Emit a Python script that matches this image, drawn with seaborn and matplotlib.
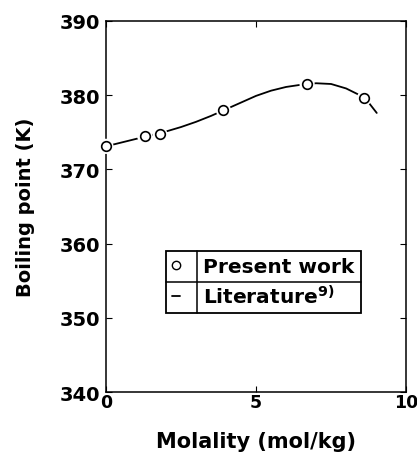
import matplotlib
matplotlib.use("Agg")
import matplotlib.pyplot as plt
import seaborn as sns
import pandas as pd
from matplotlib.lines import Line2D

# Present work (measured points)
molality_pw = [0.0, 1.29, 1.8, 3.91, 6.7, 8.61]
bp_pw = [373.1, 374.5, 374.7, 378.0, 381.5, 379.6]

# Literature curve
molality_lit = [0.0, 0.5, 1.0, 1.5, 2.0, 2.5, 3.0, 3.5, 4.0, 4.5, 5.0, 5.5,
                6.0, 6.5, 7.0, 7.5, 8.0, 8.5, 8.75, 9.02]
bp_lit = [373.1, 373.6, 374.1, 374.6, 375.1, 375.7, 376.4, 377.2, 378.1, 379.0,
          379.9, 380.6, 381.1, 381.4, 381.6, 381.5, 380.9, 379.9, 379.0, 377.6]

xticks = [0, 5, 10]
yticks = [340, 350, 360, 370, 380, 390]
legend_labels = ["Present work", "Literature$^{\\mathbf{9)}}$"]

sns.set_style("ticks")
plt.rcParams['font.family'] = ['DejaVu Sans']
plt.rcParams['font.weight'] = 'bold'
plt.rcParams['mathtext.default'] = 'bf'
for k in ['text.color', 'axes.labelcolor', 'xtick.color', 'ytick.color',
          'axes.edgecolor']:
    plt.rcParams[k] = 'black'

fig = plt.figure(figsize=(4.17, 4.56), dpi=100)
ax = fig.add_axes([0.254, 0.138, 0.72, 0.814])

df_lit = pd.DataFrame({"m": molality_lit, "bp": bp_lit})
df_pw = pd.DataFrame({"m": molality_pw, "bp": bp_pw})

sns.lineplot(data=df_lit, x="m", y="bp", ax=ax, color="black", lw=1.3,
             sort=False, estimator=None, zorder=2)
# white halo to make gaps around markers
sns.scatterplot(data=df_pw, x="m", y="bp", ax=ax, s=120, color="white",
                edgecolor="none", zorder=3, clip_on=False)
sns.scatterplot(data=df_pw, x="m", y="bp", ax=ax, s=48, color="white",
                edgecolor="black", linewidth=1.2, zorder=4, clip_on=False)

ax.set_xlim(0, 10)
ax.set_ylim(340, 390)
ax.set_xticks(xticks)
ax.set_yticks(yticks)
ax.set_xticklabels([str(t) for t in xticks], fontsize=12.5, fontweight='bold')
ax.set_yticklabels([str(t) for t in yticks], fontsize=14, fontweight='bold')
ax.tick_params(direction='in', top=True, right=True, length=4, width=0.8,
               pad=1)
ax.tick_params(axis='y', pad=4)
for s in ax.spines.values():
    s.set_linewidth(1.1)
    s.set_color("black")

ax.set_xlabel("Molality (mol/kg)", fontsize=15, fontweight='bold', labelpad=14)
ax.set_ylabel("Boiling point (K)", fontsize=14, fontweight='bold', labelpad=18)

handles = [
    Line2D([], [], marker='o', ls='none', markerfacecolor='white',
           markeredgecolor='black', markersize=6, markeredgewidth=1.0),
    Line2D([], [], color='black', lw=1.3),
]
leg = ax.legend(handles, legend_labels, loc='upper left',
                bbox_to_anchor=(0.2, 0.38), frameon=True, fancybox=False,
                edgecolor='black', framealpha=1, borderpad=0.3,
                handlelength=0.4, handletextpad=1.15, labelspacing=0.4,
                prop={'size': 14.5, 'weight': 'bold'}, borderaxespad=0)
leg.get_frame().set_linewidth(1.3)

fig.canvas.draw()
# draw separators inside the legend box to make it table-like
fb = leg.get_frame().get_window_extent()
inv = fig.transFigure.inverted()
(x0, y0), (x1, y1) = inv.transform([(fb.x0, fb.y0), (fb.x1, fb.y1)])
xsep = x0 + (x1 - x0) * 0.16
ymid = (y0 + y1) / 2
fig.add_artist(Line2D([xsep, xsep], [y0, y1], color='black', lw=1.1,
                      transform=fig.transFigure, zorder=10))
fig.add_artist(Line2D([x0, x1], [ymid, ymid], color='black', lw=1.1,
                      transform=fig.transFigure, zorder=10))

fig.savefig("out.png", dpi=100)
